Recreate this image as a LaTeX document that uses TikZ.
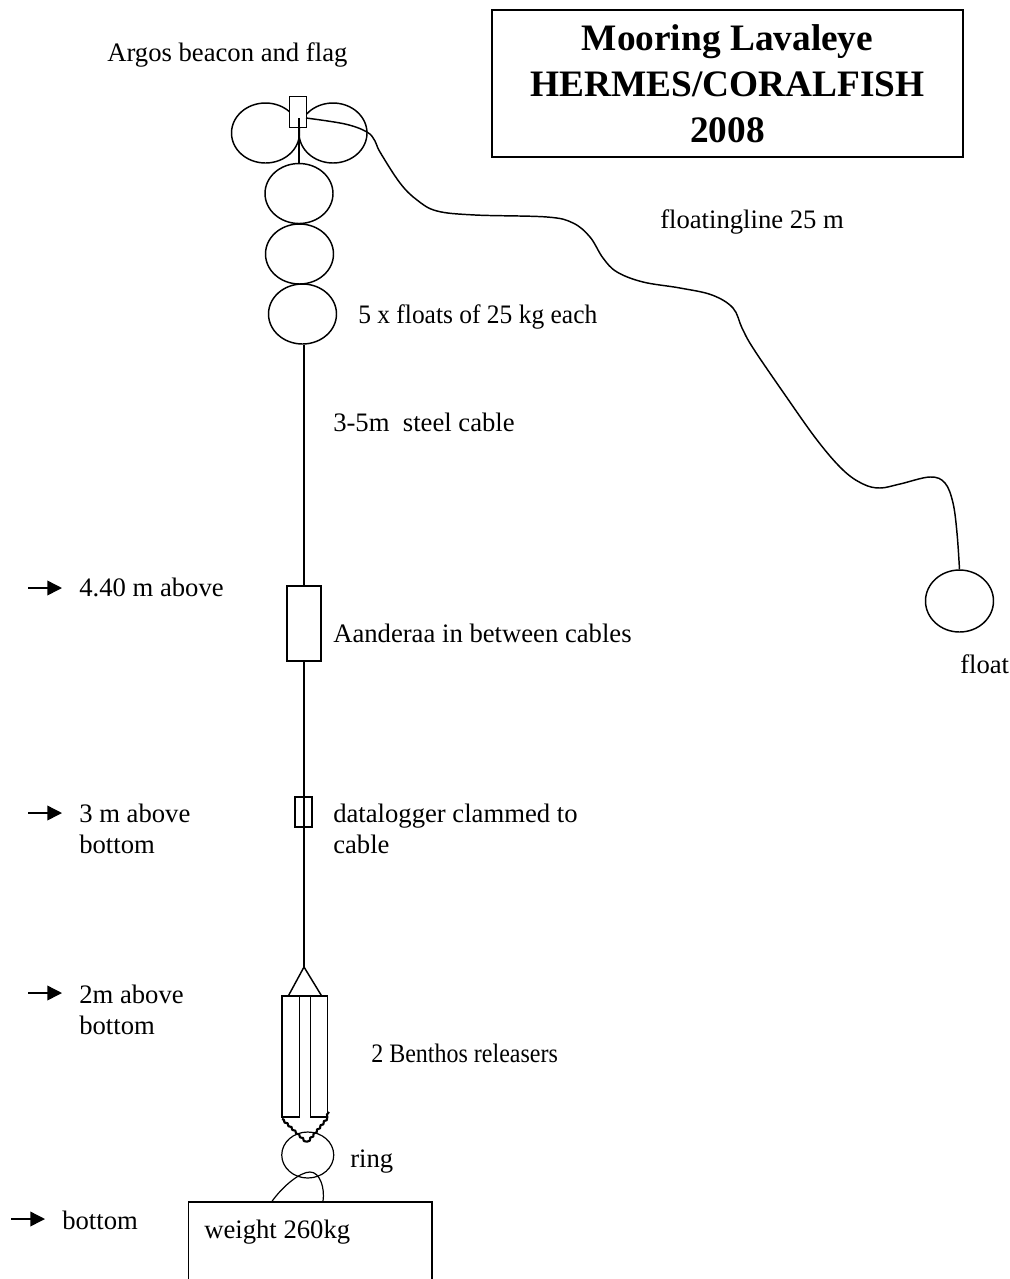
\documentclass[tikz,border=0pt]{standalone}
\usepackage{fontspec}
\setmainfont{Liberation Serif}
\usetikzlibrary{shapes, arrows.meta, positioning, decorations.pathmorphing}

\begin{document}
\begin{tikzpicture}[
			x=0.75pt, y=-0.75pt,
			wire/.style={line width=1.1pt},
			buoy/.style={ellipse, draw, line width=1.1pt, inner sep=0pt, minimum width=68*0.75pt, minimum height=60*0.75pt},
			box/.style={rectangle, draw, line width=1.1pt, inner sep=0pt},
			lbl/.style={anchor=base west, inner sep=0pt, align=left, font=\fontsize{20pt}{23.25pt}\selectfont},
			arr/.style={-{Triangle[length=11pt, width=11pt]}, line width=1.1pt, shorten >=17*0.75pt}
			]
			\useasboundingbox (0,0) rectangle (1010,1279);
			% title
			\node[box, minimum width=471*0.75pt, minimum height=147*0.75pt, align=center, font=\fontsize{28pt}{34.5pt}\selectfont\bfseries] (title) at (727.5,83.5) {Mooring Lavaleye \\ HERMES/CORALFISH \\ 2008};
			% floats at the top
			\node[buoy] (floatL) at (265.5,133) {};
			\node[buoy] (floatR) at (333,133) {};
			\node[buoy] (floatB) at (299,193.5) {};
			\node[buoy] (floatC) at (299.5,254) {};
			\node[buoy] (floatD) at (302.5,314) {};
			\node[box, minimum width=17.5*0.75pt, minimum height=30.5*0.75pt, fill=white] (beacon) at (298,112) {};
			\coordinate (beaconIn) at (299,118);
			\draw[wire] (beaconIn) -- (floatB.north);
			% instruments on the cable
			\node[box, minimum width=34*0.75pt, minimum height=75*0.75pt] (aanderaa) at (304,623.5) {};
			\node[box, line width=0.9pt, minimum width=17*0.75pt, minimum height=30*0.75pt] (logger) at (303.5,812) {};
			\coordinate (apex) at (304,967);
			\coordinate (triL) at (288,996.5);
			\coordinate (triR) at (322,996.5);
			\draw[wire] (floatD.south -| aanderaa.north) -- (aanderaa.north);
			\draw[wire] (aanderaa.south) -- (apex);
			\draw[wire] (triL) -- (apex) -- (triR);
			% releasers
			\node[box, minimum width=17.5*0.75pt, minimum height=120.5*0.75pt] (relL) at (290.75,1056.75) {};
			\node[box, minimum width=17*0.75pt, minimum height=120.5*0.75pt] (relR) at (319.25,1056.75) {};
			\draw[wire] (relL.north west) -- (relR.north east);
			\node[buoy, line width=0.9pt, minimum width=52*0.75pt, minimum height=46*0.75pt] (ring) at (307.75,1155) {};
			\node[box, minimum width=243.5*0.75pt, minimum height=120*0.75pt] (weight) at (310.25,1262) {};
			\coordinate (chainL) at (282,1119);
			\coordinate (chainM) at (305,1141);
			\coordinate (chainR) at (329,1112);
			\draw[line width=1.6pt, line join=round, decorate, decoration={snake, amplitude=0.6pt, segment length=4pt}] (chainL) -- (chainM) -- (chainR);
			\draw[line width=0.9pt] (weight.north -| 272,0) .. controls (283,1186) and (300,1172) .. (310,1172) .. controls (320,1172) and (325,1188) .. (weight.north -| 323,0);
			% floating line
			\node[buoy, minimum width=68*0.75pt, minimum height=62*0.75pt] (farfloat) at (959.5,601) {};
			\coordinate (lineStart) at (306,118);
			\draw[wire] plot[smooth, tension=0.6] coordinates {(lineStart) (345,124) (367,132) (375,141) (380,152) (400,183) (417,200) (437,211) (475,215) (547,217) (573,223) (590,237) (603,258) (617,272) (643,282) (680,288) (712,295) (733,308) (742,328) (753,348) (783,392) (817,440) (843,470) (863,484) (880,488) (900,484) (930,477) (945,483) (953,503) (957,533) (farfloat.north)};
			% labels
			\node[lbl] (argos) at (107,61) {Argos beacon and flag};
			\node[lbl] (linelbl) at (660,228) {floatingline 25 m};
			\node[lbl, font=\fontsize{20pt}{23.25pt}\selectfont\addfontfeature{FakeStretch=0.955}] (floatslbl) at (358,323) {5 x floats of 25 kg each};
			\node[lbl] (steel) at (333,431) {3-5m\ \ steel cable};
			\node[lbl] (aanlbl) at (333,642) {Aanderaa in between cables};
			\node[lbl] (loglbl) at (333,853) {datalogger clammed to \\ cable};
			\node[lbl, font=\fontsize{20pt}{23.25pt}\selectfont\addfontfeature{FakeStretch=0.9}] (benthos) at (371,1062) {2 Benthos releasers};
			\node[lbl] (ringlbl) at (350,1167) {ring};
			\node[lbl] (weightlbl) at (204,1238) {weight 260kg};
			\node[lbl] (floatlbl) at (960,673) {float};
			\node[lbl] (above) at (79,596) {4.40 m above};
			\node[lbl] (threem) at (79,853) {3 m above \\ bottom};
			\node[lbl] (twom) at (79,1034) {2m above \\ bottom};
			\node[lbl] (bottom) at (62,1229) {bottom};
			% arrows
			\coordinate (tailA) at (28,588);
			\coordinate (tailB) at (28,813);
			\coordinate (tailC) at (28,993);
			\coordinate (tailD) at (11,1219);
			\draw[arr] (tailA) -- (tailA -| above.west);
			\draw[arr] (tailB) -- (tailB -| threem.west);
			\draw[arr] (tailC) -- (tailC -| twom.west);
			\draw[arr] (tailD) -- (tailD -| bottom.west);
		\end{tikzpicture}
\end{document}
